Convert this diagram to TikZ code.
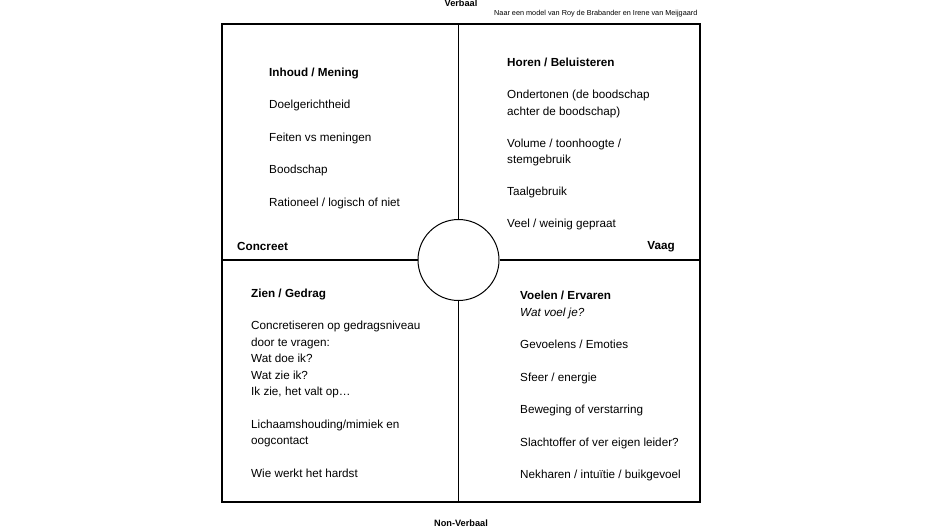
\documentclass[tikz,border=0pt]{standalone}
\usepackage{fontspec}
\setmainfont{Liberation Sans}

\newlength{\du}
\setlength{\du}{1pt}

\tikzset{
  kwadrant/.style={anchor=north west, align=left, inner sep=0pt,
    font=\fontsize{11.7}{16.5}\selectfont},
  as/.style={inner sep=0pt, font=\fontsize{11.7}{14}\selectfont\bfseries},
  kop/.style={inner sep=0pt, font=\fontsize{9.2}{11}\selectfont\bfseries},
}

\begin{document}
\begin{tikzpicture}
\pgftransformxscale{1.000000}
\pgftransformyscale{-1.000000}
\useasboundingbox (0\du,0\du) rectangle (945\du,530\du);
% kader en kruis
\node[draw, line width=1.6\du, minimum width=478\du, minimum height=478\du, inner sep=0pt] (kader) at (461.0\du,263.0\du) {};
\node[draw, circle, line width=1.0\du, minimum size=81\du, inner sep=0pt] (midden) at (458.5\du,260.0\du) {};
\draw[line width=1.3\du] (midden.north) -- (midden.north |- kader.north);
\draw[line width=1.3\du] (midden.south) -- (midden.south |- kader.south);
\draw[line width=1.3\du] (midden.west) -- (midden.west -| kader.west);
\draw[line width=1.3\du] (midden.east) -- (midden.east -| kader.east);
% assen
\node[kop, anchor=base] (verbaal) at (461.0\du,6.0\du) {Verbaal};
\node[kop, anchor=base] (nonverbaal) at (461.0\du,526.0\du) {Non-Verbaal};
\node[inner sep=0pt, anchor=base west, font=\fontsize{7.28}{9}\selectfont] (bron) at (494.0\du,15.0\du) {Naar een model van Roy de Brabander en Irene van Meijgaard};
\node[as, anchor=base west] (concreet) at (237.0\du,250.0\du) {Concreet};
\node[as, anchor=base east] (vaag) at (675.0\du,249.0\du) {Vaag};
% kwadranten
\node[kwadrant] (inhoud) at (269.0\du,67.5\du) {\textbf{Inhoud / Mening}\\[16pt]
Doelgerichtheid\\[16pt]
Feiten vs meningen\\[16pt]
Boodschap\\[16pt]
Rationeel / logisch of niet};
\node[kwadrant] (horen) at (507.0\du,58.0\du) {\textbf{Horen / Beluisteren}\\[15.5pt]
Ondertonen (de boodschap\\
achter de boodschap)\\[15.5pt]
Volume / toonhoogte /\\
stemgebruik\\[15.5pt]
Taalgebruik\\[15.5pt]
Veel / weinig gepraat};
\node[kwadrant] (zien) at (251.0\du,288.5\du) {\textbf{Zien / Gedrag}\\[16pt]
Concretiseren op gedragsniveau\\
door te vragen:\\
Wat doe ik?\\
Wat zie ik?\\
Ik zie, het valt op…\\[16pt]
Lichaamshouding/mimiek en\\
oogcontact\\[16pt]
Wie werkt het hardst};
\node[kwadrant] (voelen) at (520.0\du,291.0\du) {\textbf{Voelen / Ervaren}\\
\textit{Wat voel je?}\\[16pt]
Gevoelens / Emoties\\[16pt]
Sfeer / energie\\[16pt]
Beweging of verstarring\\[16pt]
Slachtoffer of ver eigen leider?\\[16pt]
Nekharen / intuïtie / buikgevoel};
\end{tikzpicture}
\end{document}
